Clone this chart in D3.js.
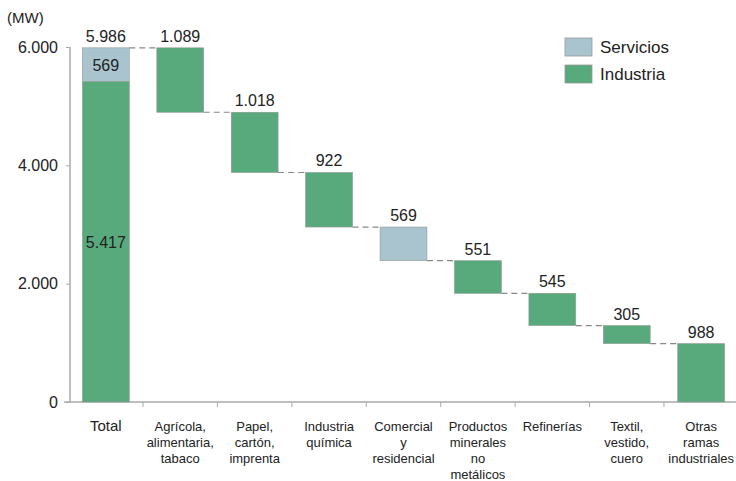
<!DOCTYPE html>
<html lang="es">
<head>
<meta charset="UTF-8">
<script src="https://cdn.jsdelivr.net/npm/d3@7"></script>
<style>
  body { margin: 0; background: #fff; font-family: "Liberation Sans", Arial, sans-serif; }
  svg text { fill: #222; }
</style>
</head>
<body>
<svg id="chart" width="736" height="481"></svg>
<script>
const categories = [
  ["Total"],
  ["Agrícola,", "alimentaria,", "tabaco"],
  ["Papel,", "cartón,", "imprenta"],
  ["Industria", "química"],
  ["Comercial", "y", "residencial"],
  ["Productos", "minerales", "no", "metálicos"],
  ["Refinerías"],
  ["Textil,", "vestido,", "cuero"],
  ["Otras", "ramas", "industriales"]
];
const totalIndustria = 5417;
const totalServicios = 569;
const stepValues = [1089, 1018, 922, 569, 551, 545, 305, 988];
const stepSeries = ["Industria", "Industria", "Industria", "Servicios", "Industria", "Industria", "Industria", "Industria"];
const yTicks = [0, 2000, 4000, 6000];
const colors = { Servicios: "#a9c4ce", Industria: "#58aa7d" };

const fmt = v => d3.format(",")(v).replace(/,/g, ".");

const svg = d3.select("#chart");
const x = d3.scaleBand().domain(d3.range(categories.length)).range([69, 738]).paddingInner(0.37).paddingOuter(0.18);
const y = d3.scaleLinear().domain([0, 6000]).range([402, 47]);

// axes
const yAxis = svg.append("g").attr("transform", "translate(70,0)")
  .call(d3.axisLeft(y).tickValues(yTicks).tickSize(4).tickPadding(8).tickFormat(fmt));
yAxis.select(".domain").attr("stroke", "#aaa").attr("stroke-width", 1.5).attr("d", `M0,${y(0)}V${y(6000)}`);
yAxis.selectAll(".tick line").attr("stroke", "#aaa");
yAxis.selectAll(".tick text").style("font-size", "16px").attr("fill", "#222");

const xBoundaries = d3.range(categories.length).map(i => x(i) - x.step() * x.paddingInner() / 2 + x.step());
const xAxis = svg.append("g");
xAxis.append("line").attr("x1", 64).attr("x2", 736).attr("y1", y(0)).attr("y2", y(0))
  .attr("stroke", "#aaa").attr("stroke-width", 1.5);
xAxis.selectAll(".xt").data(xBoundaries.slice(0, -1)).join("line")
  .attr("x1", d => d).attr("x2", d => d).attr("y1", y(0)).attr("y2", y(0) + 5).attr("stroke", "#aaa");

svg.append("text").attr("x", 7).attr("y", 23).style("font-size", "15px").text("(MW)");

// build waterfall data
const bars = [];
bars.push({ i: 0, y0: 0, y1: totalIndustria, s: "Industria" });
bars.push({ i: 0, y0: totalIndustria, y1: totalIndustria + totalServicios, s: "Servicios" });
let level = totalIndustria + totalServicios;
const steps = stepValues.map((v, k) => {
  const top = level, bottom = Math.max(0, level - v);
  level = bottom;
  return { i: k + 1, y0: bottom, y1: top, s: stepSeries[k], v };
});
bars.push(...steps);

// connectors
const tops = [totalIndustria + totalServicios, ...steps.map(d => d.y0)];
svg.selectAll(".conn").data(steps).join("line")
  .attr("x1", d => x(d.i - 1) + x.bandwidth())
  .attr("x2", d => x(d.i))
  .attr("y1", (d, k) => y(tops[k]))
  .attr("y2", (d, k) => y(tops[k]))
  .attr("stroke", "#888").attr("stroke-width", 1.2).attr("stroke-dasharray", "6,4");

svg.selectAll(".bar").data(bars).join("rect")
  .attr("x", d => x(d.i))
  .attr("width", x.bandwidth())
  .attr("y", d => y(d.y1))
  .attr("height", d => y(d.y0) - y(d.y1))
  .attr("fill", d => colors[d.s])
  .attr("stroke", "#8f9a94").attr("stroke-width", 0.6);

// value labels
const cx0 = x(0) + x.bandwidth() / 2;
svg.append("text").attr("x", cx0).attr("y", y(totalIndustria + totalServicios) - 6)
  .attr("text-anchor", "middle").style("font-size", "16px").text(fmt(totalIndustria + totalServicios));
svg.append("text").attr("x", cx0).attr("y", y(totalIndustria + totalServicios / 2) + 6)
  .attr("text-anchor", "middle").style("font-size", "16px").text(fmt(totalServicios));
svg.append("text").attr("x", cx0).attr("y", y(totalIndustria / 2) + 6)
  .attr("text-anchor", "middle").style("font-size", "16px").attr("fill", "#1c3a28").text(fmt(totalIndustria));
svg.selectAll(".val").data(steps).join("text")
  .attr("x", d => x(d.i) + x.bandwidth() / 2)
  .attr("y", d => y(d.y1) - 6)
  .attr("text-anchor", "middle").style("font-size", "16px")
  .text(d => fmt(d.v));

// category labels
categories.forEach((lines, i) => {
  const t = svg.append("text").attr("x", x(i) + x.bandwidth() / 2).attr("y", 431)
    .attr("text-anchor", "middle").style("font-size", i === 0 ? "15px" : "13px");
  lines.forEach((l, k) => t.append("tspan").attr("x", x(i) + x.bandwidth() / 2).attr("dy", k === 0 ? 0 : 16).text(l));
});

// legend
const legend = svg.append("g").attr("transform", "translate(565,38)");
["Servicios", "Industria"].forEach((s, k) => {
  legend.append("rect").attr("x", 0).attr("y", k * 27).attr("width", 27).attr("height", 18)
    .attr("fill", colors[s]).attr("stroke", "#999").attr("stroke-width", 0.8);
  legend.append("text").attr("x", 35).attr("y", k * 27 + 15).style("font-size", "17px").text(s);
});
</script>
</body>
</html>
